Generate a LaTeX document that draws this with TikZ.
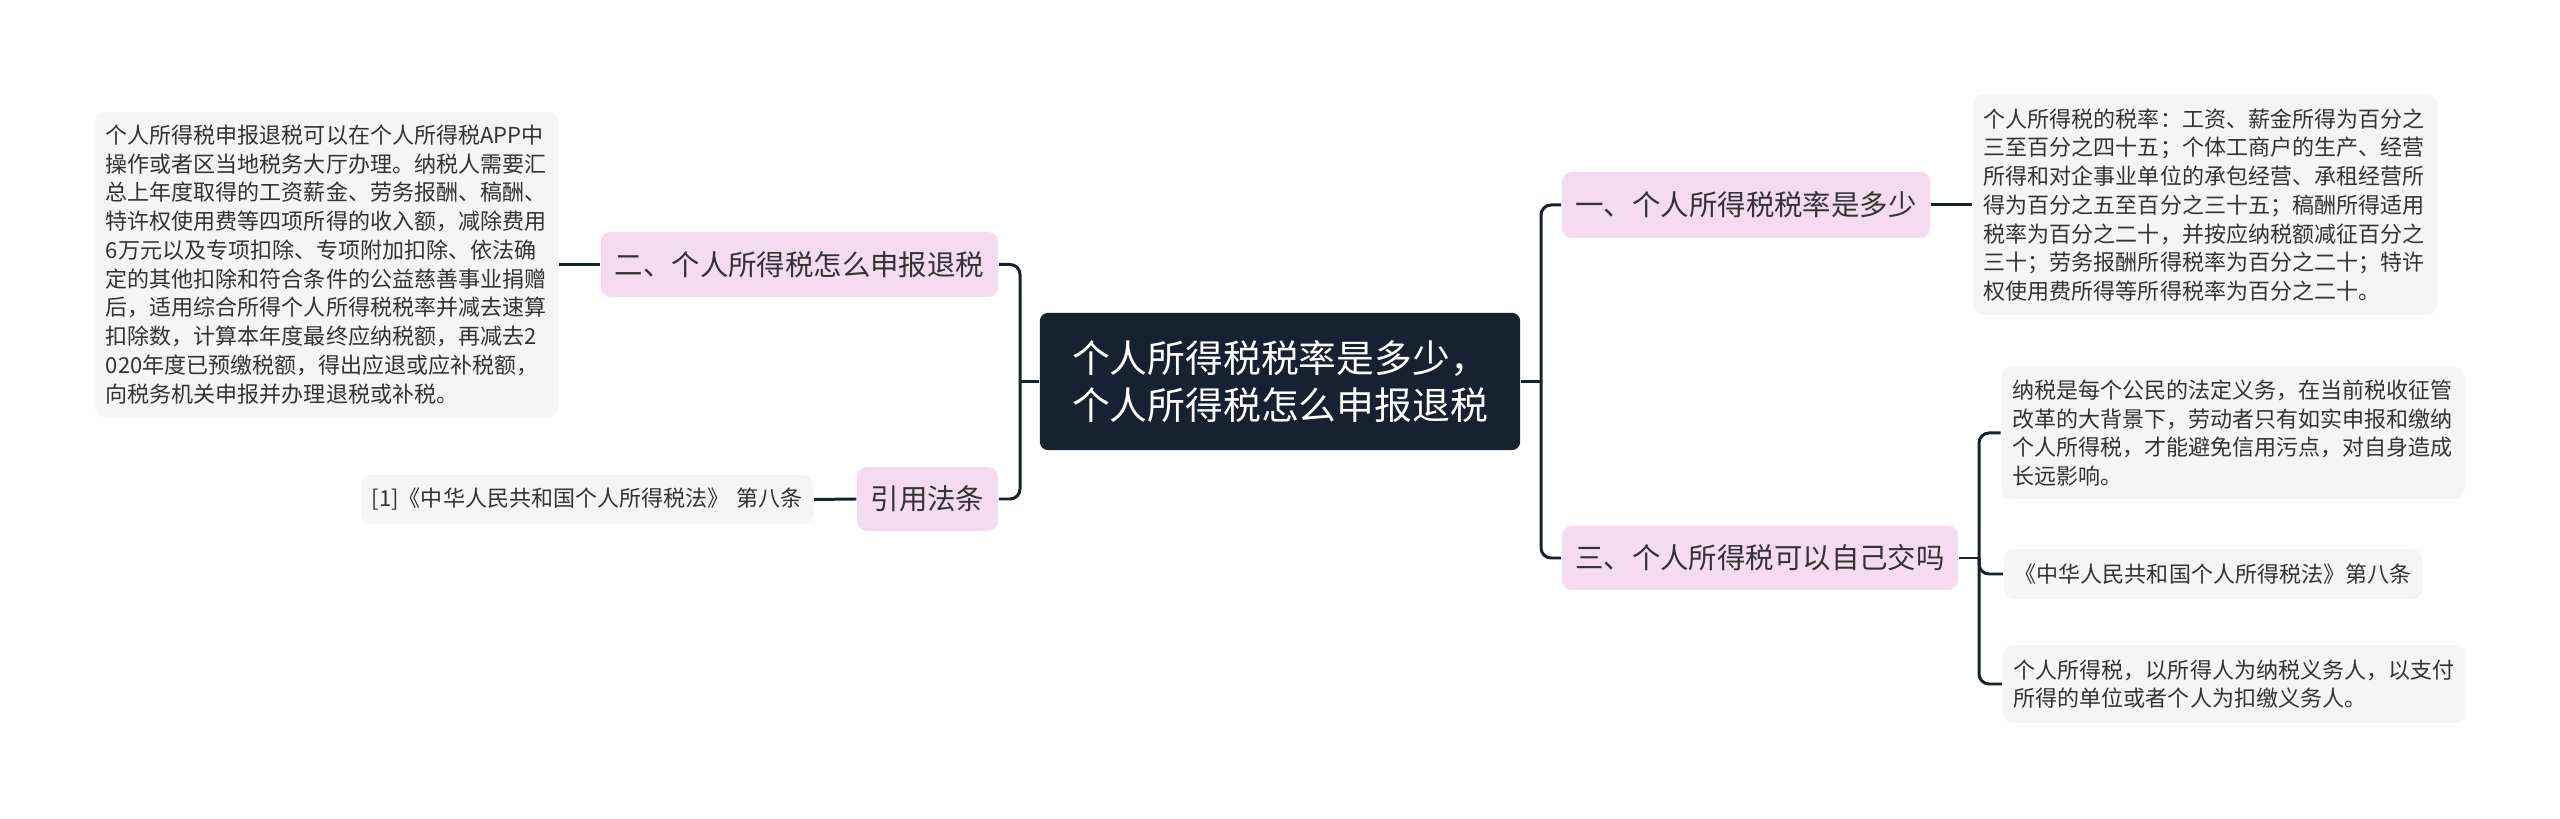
\documentclass[tikz,border=0pt]{standalone}
\usepackage{fontspec}
\setmainfont{Noto Sans CJK SC}
\usetikzlibrary{calc}

\definecolor{rootnavy}{RGB}{22,34,50}
\definecolor{branchpink}{RGB}{245,219,239}
\definecolor{leafgray}{RGB}{245,245,245}
\definecolor{textgray}{RGB}{51,51,51}

\begin{document}
\begin{tikzpicture}[x=0.01cm,y=-0.01cm,
  root/.style={fill=rootnavy,text=white,rounded corners=0.08cm,inner sep=0pt,align=center,
    font=\fontsize{10.75pt}{13.4pt}\selectfont},
  branch/.style={fill=branchpink,text=textgray,rounded corners=0.1cm,inner sep=0pt,align=center,
    font=\fontsize{8.08pt}{10pt}\selectfont},
  leaf/.style={fill=leafgray,text=textgray,rounded corners=0.1cm,inner xsep=0.11cm,inner ysep=0pt,align=left,
    font=\fontsize{6.26pt}{8.17pt}\selectfont},
  link/.style={draw=rootnavy,line width=0.85pt,rounded corners=0.1cm}]
  \useasboundingbox (0,0) rectangle (2560,819);

  \node[root,minimum width=4.8cm,minimum height=1.37cm] (N0) at (1280,381.5)
    {个人所得税税率是多少，\\个人所得税怎么申报退税};

  \node[branch,minimum width=3.68cm,minimum height=0.66cm] (N1) at (1746,205) {一、个人所得税税率是多少};
  \node[branch,minimum width=3.97cm,minimum height=0.65cm] (N2) at (799.5,264.5) {二、个人所得税怎么申报退税};
  \node[branch,minimum width=3.96cm,minimum height=0.64cm] (N3) at (1760,558) {三、个人所得税可以自己交吗};
  \node[branch,minimum width=1.41cm,minimum height=0.64cm] (N4) at (927.5,499) {引用法条};

  \node[leaf,text width=4.42cm,minimum height=2.2cm] (N5) at (2205,205)
    {个人所得税的税率：工资、薪金所得为百分之\\三至百分之四十五；个体工商户的生产、经营\\所得和对企事业单位的承包经营、承租经营所\\得为百分之五至百分之三十五；稿酬所得适用\\税率为百分之二十，并按应纳税额减征百分之\\三十；劳务报酬所得税率为百分之二十；特许\\权使用费所得等所得税率为百分之二十。};
  \node[leaf,text width=4.41cm,minimum height=3.05cm] (N6) at (326.5,264.5)
    {个人所得税申报退税可以在个人所得税APP中\\操作或者区当地税务大厅办理。纳税人需要汇\\总上年度取得的工资薪金、劳务报酬、稿酬、\\特许权使用费等四项所得的收入额，减除费用\\6万元以及专项扣除、专项附加扣除、依法确\\定的其他扣除和符合条件的公益慈善事业捐赠\\后，适用综合所得个人所得税税率并减去速算\\扣除数，计算本年度最终应纳税额，再减去2\\020年度已预缴税额，得出应退或应补税额，\\向税务机关申报并办理退税或补税。};
  \node[leaf,text width=4.41cm,minimum height=1.32cm] (N7) at (2233,433)
    {纳税是每个公民的法定义务，在当前税收征管\\改革的大背景下，劳动者只有如实申报和缴纳\\个人所得税，才能避免信用污点，对自身造成\\长远影响。};
  \node[leaf,text width=3.96cm,minimum height=0.5cm] (N8) at (2213,574)
    {《中华人民共和国个人所得税法》第八条};
  \node[leaf,text width=4.4cm,minimum height=0.78cm] (N9) at (2234,684)
    {个人所得税，以所得人为纳税义务人，以支付\\所得的单位或者个人为扣缴义务人。};
  \node[leaf,text width=4.3cm,minimum height=0.49cm] (N10) at (587,499.5)
    {[1]《中华人民共和国个人所得税法》~第八条};

  \coordinate (JL) at (1020,381.5);
  \coordinate (JR) at (1541,381.5);
  \coordinate (J3) at (1979,558);

  \draw[link] (N0.west) -- (JL);
  \draw[link] (N2.east) -| (JL) |- (N4.east);
  \draw[link] (N0.east) -- (JR);
  \draw[link] (N1.west) -| (JR) |- (N3.west);
  \draw[link] (N1.east) -- (N5.west);
  \draw[link] (N6.east) -- (N2.west);
  \draw[link] (N10.east) -- (N4.west);
  \draw[link] (N3.east) -- (J3);
  \draw[link] (N7.west) -| (J3) |- (N9.west);
  \draw[link] (J3) |- (N8.west);
\end{tikzpicture}
\end{document}
